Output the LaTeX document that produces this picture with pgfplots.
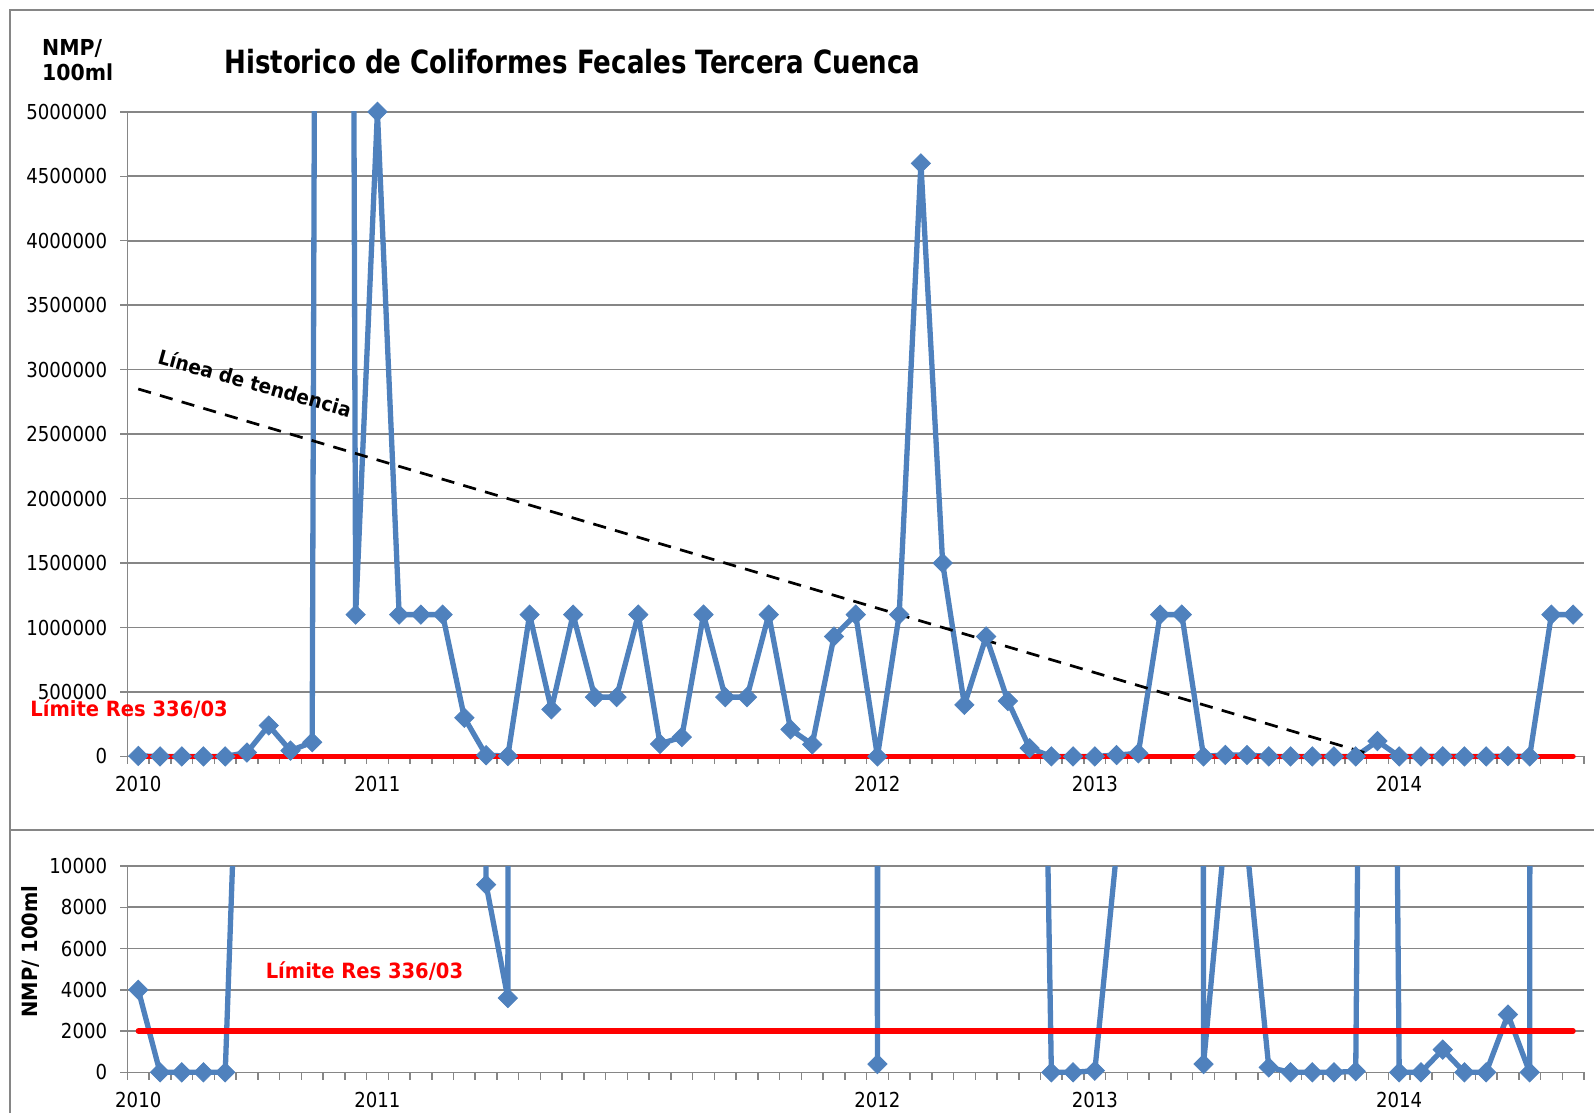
\documentclass[border=0pt]{standalone}
\usepackage{fontspec}
\setmainfont{DejaVu Sans}[FakeStretch=0.88]
\newfontfamily\boldf{DejaVu Sans}[FakeStretch=0.93]
\newfontfamily\titlef{DejaVu Sans}[FakeStretch=0.815]
\usepackage{pgfplots}
\pgfplotsset{compat=1.18}
\usepackage{pgfplotstable}
\definecolor{xlblue}{HTML}{4F81BD}
\definecolor{xlgray}{HTML}{868686}
\definecolor{xlred}{HTML}{FF0000}

\pgfplotstableread{
idx val
0 4000
1 0
2 0
3 0
4 0
5 30000
6 240000
7 45000
8 110000
9 50000000
10 1100000
11 5000000
12 1100000
13 1100000
14 1100000
15 300000
16 9100
17 3600
18 1100000
19 365000
20 1100000
21 460000
22 460000
23 1100000
24 97000
25 150000
26 1100000
27 460000
28 460000
29 1100000
30 210000
31 93000
32 930000
33 1100000
34 400
35 1100000
36 4600000
37 1500000
38 400000
39 930000
40 430000
41 64000
42 0
43 0
44 80
45 10700
46 24000
47 1100000
48 1100000
49 400
50 11750
51 10900
52 240
53 0
54 0
55 0
56 50
57 119000
58 0
59 0
60 1100
61 0
62 0
63 2800
64 0
65 1100000
66 1100000
}\coli

\pgfplotstableread{
idx val
0 2850000
57.0 0
}\trend

\pgfplotstableread{
idx val
0 2000
66 2000
}\limite

\pgfplotsset{
  panel/.style={
    scale only axis,
    anchor=south west,
    width=728.3pt,
    xmin=-0.5, xmax=66.5,
    axis x line*=middle, axis y line*=left,
    x axis line style={-}, y axis line style={-},
    axis line style={xlgray, line width=0.75pt},
    hide obscured x ticks=false,
    hide obscured y ticks=false,
    xtick={0,11,34,44,58},
    xticklabels={2010,2011,2012,2013,2014},
    minor xtick={-0.5,0.5,...,66.5},
    every major x tick/.append style={draw=none},
    tick align=outside,
    major tick length=3.6pt,
    minor tick length=3.6pt,
    tick style={xlgray, line width=0.75pt},
    ymajorgrids,
    major grid style={xlgray, line width=0.8pt},
    tick label style={font=\fontsize{10.3}{12}\selectfont, text=black},
    /pgf/number format/assume math mode=true,
    xticklabel style={anchor=north, yshift=-2.9pt},
    yticklabel style={anchor=east, xshift=-3pt},
    scaled y ticks=false,
  },
  bluel/.style={xlblue, line width=2.65pt, line join=round, no markers},
  bluem/.style={only marks, mark=square*, mark size=3.4pt,
    mark options={rotate=45, fill=xlblue, draw=xlblue, line width=0.4pt, solid}},
}

\begin{document}
\begin{tikzpicture}
% frame lines
\draw[xlgray, line width=0.75pt] (5pt,-556.5pt) -- (5pt,-5pt) -- (797pt,-5pt);
\draw[xlgray, line width=0.75pt] (5pt,-415pt) -- (797pt,-415pt);

% top panel
\begin{axis}[panel,
  at={(63.7pt,-379.5pt)},
  height=323.6pt,
  ymin=-20000, ymax=5000000,
  ytick={0,500000,1000000,1500000,2000000,2500000,3000000,3500000,4000000,4500000,5000000},
  yticklabels={0,500000,1000000,1500000,2000000,2500000,3000000,3500000,4000000,4500000,5000000},
]
\addplot[bluel] table[x=idx,y=val]{\coli};
\addplot[bluem, restrict y to domain=-1:5000001, unbounded coords=discard] table[x=idx,y=val]{\coli};
\addplot[black, line width=1.35pt, dash pattern=on 6.6pt off 4.7pt, no markers] table[x=idx,y=val]{\trend};
\addplot[xlred, line width=2.6pt, line cap=round, no markers] table[x=idx,y=val]{\limite};
\end{axis}

% bottom panel
\begin{axis}[panel,
  at={(63.7pt,-537.7pt)},
  height=104.7pt,
  ymin=-150, ymax=10000,
  ytick={0,2000,4000,6000,8000,10000},
  yticklabels={0,2000,4000,6000,8000,10000},
]
\addplot[bluel, restrict y to domain=-1:1400000, unbounded coords=jump] table[x=idx,y=val]{\coli};
\addplot[bluem, restrict y to domain=-1:10001, unbounded coords=discard] table[x=idx,y=val]{\coli};
\addplot[xlred, line width=2.6pt, line cap=round, no markers] table[x=idx,y=val]{\limite};
\end{axis}

% texts
\node[font=\titlef\bfseries\fontsize{16}{19}\selectfont, anchor=center] at (286.2pt,-31pt) {Historico de Coliformes Fecales Tercera Cuenca};
\node[font=\boldf\bfseries\fontsize{11}{13}\selectfont, anchor=base west, inner sep=0pt] at (20.9pt,-27.7pt) {NMP/};
\node[font=\boldf\bfseries\fontsize{11}{13}\selectfont, anchor=base west, inner sep=0pt] at (20.9pt,-40.4pt) {100ml};
\node[font=\boldf\bfseries\fontsize{10}{12}\selectfont, rotate=-15.6, anchor=center] at (127.5pt,-191.5pt) {Línea de tendencia};
\node[font=\boldf\bfseries\fontsize{10.5}{12}\selectfont, text=xlred, anchor=base west, inner sep=0pt] at (15pt,-358pt) {Límite Res 336/03};
\node[font=\boldf\bfseries\fontsize{10.5}{12}\selectfont, text=xlred, anchor=base west, inner sep=0pt] at (132.7pt,-489.2pt) {Límite Res 336/03};
\node[font=\boldf\bfseries\fontsize{10.5}{12}\selectfont, rotate=90, anchor=center] at (15.3pt,-475.8pt) {NMP/ 100ml};

\pgfresetboundingbox
\path[use as bounding box] (0pt,0pt) rectangle (797pt,-556.5pt);
\end{tikzpicture}
\end{document}
